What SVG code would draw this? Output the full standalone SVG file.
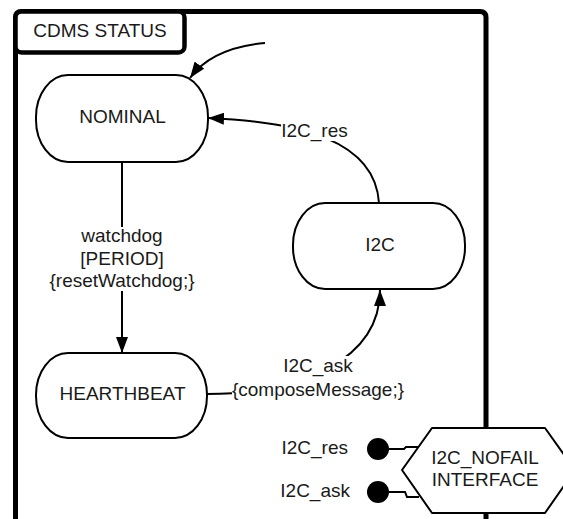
<svg xmlns="http://www.w3.org/2000/svg" width="563" height="519" viewBox="0 0 563 519">
<style>
text{font-family:"Liberation Sans",Arial,sans-serif;font-size:19px;fill:#1a1a1a;text-anchor:middle}
.node{fill:#fff;stroke:#000;stroke-width:2}
.frame{fill:none;stroke:#000;stroke-width:5}
.edge{fill:none;stroke:#000;stroke-width:2}
.lbl{fill:#fff;stroke:none}
</style>
<defs>
<marker id="arr" viewBox="0 0 16 12" refX="16" refY="6" markerWidth="16" markerHeight="12" markerUnits="userSpaceOnUse" orient="auto">
<path d="M0,0 L16,6 L0,12 Z" fill="#000"/>
</marker>
</defs>
<rect width="563" height="519" fill="#fff"/>
<g id="frame">
<path class="frame" d="M15.5,530 V17.5 Q15.5,11.5 21.5,11.5 H480 Q486,11.5 486,17.5 V530"/>
<rect x="15.5" y="11.5" width="169" height="41" rx="6" fill="#fff" stroke="#000" stroke-width="4.5"/>
<text x="100" y="37">CDMS STATUS</text>
</g>
<g id="connectors">
<path class="edge" d="M265,43 Q212,48 190,78" marker-end="url(#arr)"/>
<path class="edge" d="M379,203 C375,140 300,122 208,118" marker-end="url(#arr)"/>
<rect class="lbl" x="281" y="124" width="67" height="17"/>
<text x="314.5" y="137">I2C_res</text>
<path class="edge" d="M122,162 V353" marker-end="url(#arr)"/>
<rect class="lbl" x="46" y="227" width="154" height="64"/>
<text x="122" y="242">watchdog</text>
<text x="122" y="264.5">[PERIOD]</text>
<text x="122" y="287">{resetWatchdog;}</text>
<path class="edge" d="M207,394 C300,394 380,360 380,290" marker-end="url(#arr)"/>
<rect class="lbl" x="232" y="356" width="173" height="45"/>
<text x="318" y="372">I2C_ask</text>
<text x="318" y="395.5">{composeMessage;}</text>
<path class="edge" d="M389,449 H404 L406,447 H419"/>
<path class="edge" d="M389,492 H405 L407,497 H419"/>
</g>
<g id="NOMINAL">
<rect class="node" x="36" y="75" width="172" height="87" rx="32" ry="42"/>
<text x="122.5" y="123">NOMINAL</text>
</g>
<g id="I2C">
<rect class="node" x="293" y="203" width="172" height="86" rx="32" ry="42"/>
<text x="380" y="251">I2C</text>
</g>
<g id="HEARTHBEAT">
<rect class="node" x="36" y="353" width="171" height="85" rx="32" ry="42"/>
<text x="122.5" y="400">HEARTHBEAT</text>
</g>
<g id="I2C_NOFAIL">
<path class="node" d="M432,428 H545 L575,470 L545,513 H432 L402,470 Z" stroke-linejoin="round"/>
<text x="485" y="464">I2C_NOFAIL</text>
<text x="485" y="486">INTERFACE</text>
</g>
<g id="port_res">
<circle cx="378" cy="449" r="11" fill="#000"/>
<text x="348" y="454" style="text-anchor:end">I2C_res</text>
</g>
<g id="port_ask">
<circle cx="378" cy="492" r="11" fill="#000"/>
<text x="350" y="497" style="text-anchor:end">I2C_ask</text>
</g>
</svg>
